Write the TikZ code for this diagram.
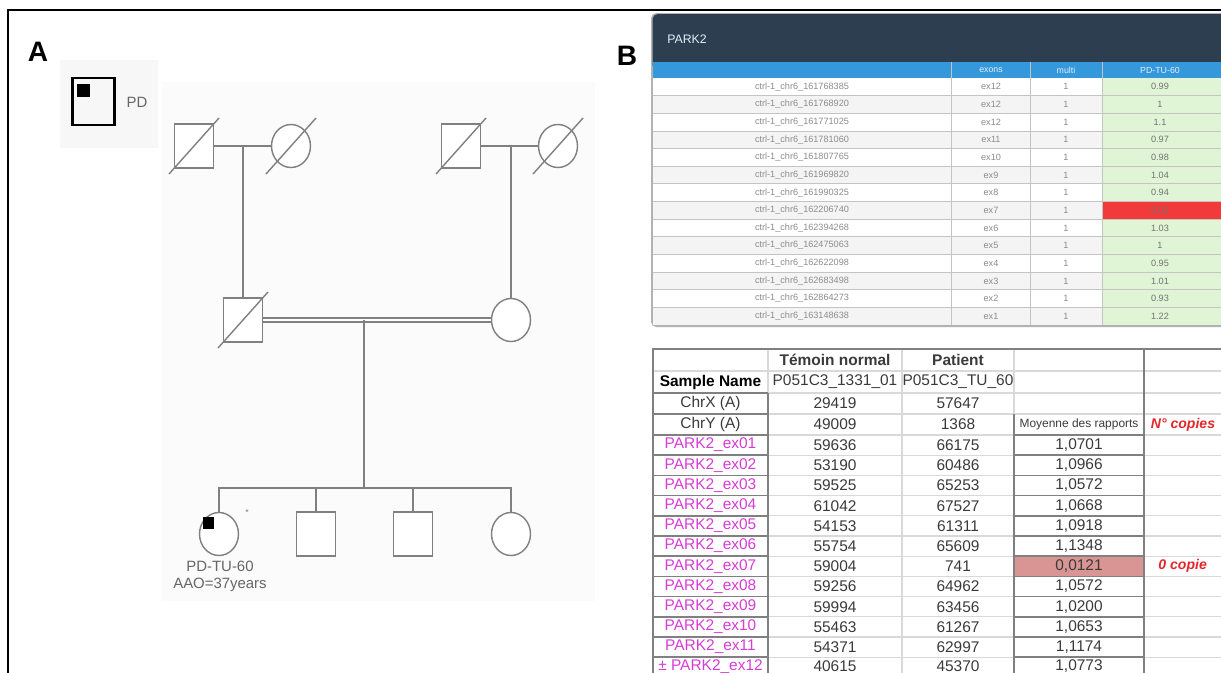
\documentclass[tikz,border=0pt]{standalone}
\usepackage{fontspec}
\setmainfont{Liberation Sans}
\usetikzlibrary{positioning,shapes.geometric}
\definecolor{pedgray}{HTML}{808080}
\definecolor{headnavy}{HTML}{2C3E50}
\definecolor{headblue}{HTML}{3498DB}
\definecolor{rowgray}{HTML}{F4F4F4}
\definecolor{okgreen}{HTML}{DFF5D6}
\definecolor{lossred}{HTML}{F23A3A}
\definecolor{rowline}{HTML}{C4C4C4}
\definecolor{parkpink}{HTML}{D63CD6}
\definecolor{copyred}{HTML}{E3262B}
\definecolor{lowcell}{HTML}{D99594}
\definecolor{numgray}{HTML}{3A3A3A}

\begin{document}
\begin{tikzpicture}[x=0.02cm,y=-0.02cm,
  male/.style={draw=pedgray,line width=0.8pt,fill=white,minimum width=0.78cm,minimum height=0.88cm,inner sep=0pt},
  female/.style={ellipse,draw=pedgray,line width=0.8pt,fill=white,minimum width=0.78cm,minimum height=0.86cm,inner sep=0pt},
  pedline/.style={draw=pedgray,line width=0.8pt},
  pedtext/.style={font=\fontsize{8.5}{9.6}\selectfont,text=black!60,align=center,inner sep=0pt},
  tinytxt/.style={font=\fontsize{5.2}{6}\selectfont,text=black!45,inner sep=0pt},
  headtxt/.style={font=\fontsize{5}{6}\selectfont,text=white!85!headblue,inner sep=0pt},
  cell/.style={font=\fontsize{8.8}{10}\selectfont,text=numgray,inner sep=0pt},
  redcell/.style={font=\fontsize{8}{10}\selectfont\bfseries\itshape,text=copyred,inner sep=0pt},
  gridlt/.style={draw=black!15,line width=0.6pt},
  griddk/.style={draw=black!50,line width=1pt},
  panel/.style={font=\fontsize{16}{18}\selectfont\bfseries,inner sep=0pt}]
  \useasboundingbox (0,0) rectangle (1221,673);
  % frame and panel letters
  \draw[line width=1.4pt] (8,673) -- (8,10) -- (1221,10);
  \node[panel] (labA) at (38,52) {A};
  \node[panel] (labB) at (627,56) {B};

  % legend
  \fill[black!3] (60,60) rectangle (158,148);
  \node[draw=black,line width=1.4pt,minimum width=0.84cm,minimum height=0.94cm,inner sep=0pt] (lgsq) at (93.5,101.5) {};
  \fill ([shift={(-16.5,-17.5)}]lgsq.center) rectangle ([shift={(-3.5,-4.5)}]lgsq.center);
  \node[pedtext] (lgtxt) at (137,102) {PD};

  % pedigree
  \fill[black!1.5] (162,82) rectangle (595,601);
  \node[male] (gf1) at (194,146) {};
  \node[female] (gm1) at (291,146) {};
  \node[male] (gf2) at (461,146) {};
  \node[female] (gm2) at (558,146) {};
  \node[male] (fa) at (243,320) {};
  \node[female] (mo) at (511,320) {};
  \node[female] (c1) at (219,534) {};
  \node[male] (c2) at (316,534) {};
  \node[male] (c3) at (413,534) {};
  \node[female] (c4) at (511,534) {};
  \coordinate (sib) at (364,488);
  \draw[pedline] (gf1) -- (gm1);
  \draw[pedline] (gf2) -- (gm2);
  \draw[pedline] (fa.north) -- (fa.north |- gf1.east);
  \draw[pedline] (mo.north) -- (mo.north |- gf2.east);
  \draw[draw=pedgray,line width=0.7pt,double distance=1.6pt] (fa) -- (mo);
  \draw[pedline] (sib) -- (sib |- fa.east);
  \draw[pedline] (c1.north) |- (sib) -- (sib -| c4.north) -- (c4.north);
  \draw[pedline] (c2.north) -- (c2.north |- sib);
  \draw[pedline] (c3.north) -- (c3.north |- sib);
  \foreach \p in {gf1,gm1,gf2,gm2,fa}
    \draw[pedline] ([shift={(-25,28)}]\p.center) -- ([shift={(25,-28)}]\p.center);
  \fill ([shift={(-16,-17)}]c1.center) rectangle ([shift={(-5,-5)}]c1.center);
  \node[font=\fontsize{5}{5}\selectfont,text=pedgray] (pstar) at (247,512) {*};
  \node[pedtext] (pblab) at (220,576) {PD-TU-60\\AAO=37years};

  % CNV report table
  \fill[black!30,rounded corners=3] (651,13) rectangle (1240,327);
  \fill[white] (652.5,78) rectangle (1240,325);
  \fill[headnavy,rounded corners=3] (652.5,14) rectangle (1240,70);
  \fill[headblue] (652.5,62) rectangle (1240,78);
  \foreach \i in {2,4,...,14}
    \fill[rowgray] (652.5,{78+17.64*(\i-1)}) rectangle (1102.5,{78+17.64*\i});
  \fill[okgreen] (1102.5,78) rectangle (1240,325);
  \fill[lossred] (1102.5,{78+17.64*7}) rectangle (1240,{78+17.64*8});
  \foreach \i in {1,...,13}
    \draw[rowline] (652.5,{78+17.64*\i}) -- (1240,{78+17.64*\i});
  \foreach \xv in {951.5,1030,1102.5}
    \draw[rowline] (\xv,62) -- (\xv,325);
  \node[headtxt,font=\fontsize{7}{8}\selectfont] (hpark) at (687,39) {PARK2};
  \node[headtxt] (hex) at (991,70) {exons};
  \node[headtxt] (hmu) at (1066,70) {multi};
  \node[headtxt] (hpd) at (1160,70) {PD-TU-60};
  \foreach \i/\pos/\ex/\val in {1/161768385/ex12/0.99,2/161768920/ex12/1,3/161771025/ex12/1.1,
      4/161781060/ex11/0.97,5/161807765/ex10/0.98,6/161969820/ex9/1.04,7/161990325/ex8/0.94,
      8/162206740/ex7/0.01,9/162394268/ex6/1.03,10/162475063/ex5/1,11/162622098/ex4/0.95,
      12/162683498/ex3/1.01,13/162864273/ex2/0.93,14/163148638/ex1/1.22}{
    \node[tinytxt] (pos\i) at (802,{78+17.64*(\i-0.5)}) {ctrl-1\_chr6\_\pos};
    \node[tinytxt] (exn\i) at (991,{78+17.64*(\i-0.5)}) {\ex};
    \node[tinytxt] (mul\i) at (1066,{78+17.64*(\i-0.5)}) {1};
    \node[tinytxt,text=black!55] (val\i) at (1160,{78+17.64*(\i-0.5)}) {\val};
  }

  % ratio table
  \fill[lowcell] (1014,556.3) rectangle (1144,576.5);
  \foreach \yl in {371,393,414,435}
    \draw[gridlt] (653,\yl) -- (1240,\yl);
  \foreach \k in {1,...,12}
    \draw[gridlt] (653,{435+20.2*\k}) -- (1240,{435+20.2*\k});
  \foreach \xv in {768,902,1014}
    \draw[gridlt] (\xv,349) -- (\xv,680);
  \draw[griddk] (1240,349) -- (653,349) -- (653,680);
  \draw[griddk] (768,393) -- (768,680);
  \draw[griddk] (1014,414) -- (1014,680);
  \draw[griddk] (1144,349) -- (1144,680);
  \foreach \yl in {393,414,435}
    \draw[griddk] (653,\yl) -- (768,\yl);
  \foreach \k in {1,...,12}
    \draw[griddk] (653,{435+20.2*\k}) -- (768,{435+20.2*\k});
  \foreach \k in {0,...,12}
    \draw[griddk] (1014,{435+20.2*\k}) -- (1144,{435+20.2*\k});
  \node[cell,font=\fontsize{8.8}{10}\selectfont\bfseries] (tem) at (835,360) {Témoin normal};
  \node[cell,font=\fontsize{8.8}{10}\selectfont\bfseries] (pat) at (958,360) {Patient};
  \node[cell,font=\fontsize{8.8}{10}\selectfont\bfseries,text=black] (sname) at (710.5,382) {Sample Name};
  \node[cell] (sctl) at (835,382) {P051C3\_1331\_01};
  \node[cell] (spat) at (958,382) {P051C3\_TU\_60};
  \node[cell] (chrx) at (710.5,403.5) {ChrX (A)};
  \node[cell] (xctl) at (835,403.5) {29419};
  \node[cell] (xpat) at (958,403.5) {57647};
  \node[cell] (chry) at (710.5,424.5) {ChrY (A)};
  \node[cell] (yctl) at (835,424.5) {49009};
  \node[cell] (ypat) at (958,424.5) {1368};
  \node[cell,font=\fontsize{6.8}{8}\selectfont] (moy) at (1079,424.5) {Moyenne des rapports};
  \node[redcell] (ncop) at (1183,424.5) {N° copies};
  \foreach \k/\nm/\ctl/\pt/\ratio in {0/01/59636/66175/{1,0701},1/02/53190/60486/{1,0966},
      2/03/59525/65253/{1,0572},3/04/61042/67527/{1,0668},4/05/54153/61311/{1,0918},
      5/06/55754/65609/{1,1348},6/07/59004/741/{0,0121},7/08/59256/64962/{1,0572},
      8/09/59994/63456/{1,0200},9/10/55463/61267/{1,0653},10/11/54371/62997/{1,1174}}{
    \node[cell,text=parkpink] (nm\nm) at (710.5,{445.1+20.2*\k}) {PARK2\_ex\nm};
    \node[cell] (ct\nm) at (835,{445.1+20.2*\k}) {\ctl};
    \node[cell] (pa\nm) at (958,{445.1+20.2*\k}) {\pt};
    \node[cell] (ra\nm) at (1079,{445.1+20.2*\k}) {\ratio};
  }
  \node[cell,text=parkpink] (nm12) at (710.5,666.5) {± PARK2\_ex12};
  \node[cell] (ct12) at (835,666.5) {40615};
  \node[cell] (pa12) at (958,666.5) {45370};
  \node[cell] (ra12) at (1079,666.5) {1,0773};
  \node[redcell] (zcop) at (1182.6,566.3) {0 copie};
\end{tikzpicture}
\end{document}
